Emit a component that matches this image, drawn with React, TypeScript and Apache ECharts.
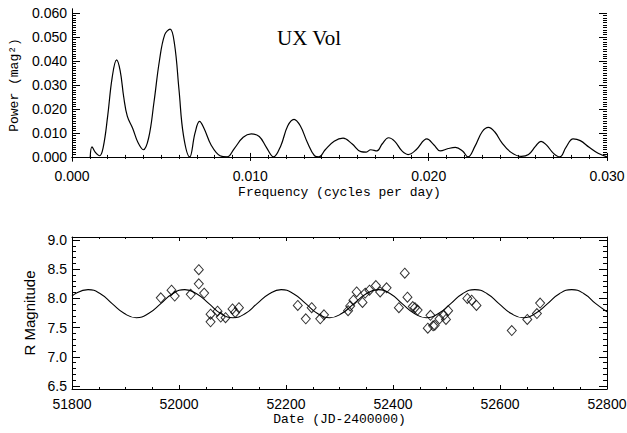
import React, { useEffect, useRef } from "react";
import * as echarts from "echarts";

// ---- Top panel: periodogram ----
const FREQ = [
  0.00102, 0.00112, 0.0013, 0.00155, 0.00175, 0.002, 0.00225, 0.0025, 0.0027, 0.0029,
  0.0031, 0.0034, 0.0037, 0.004, 0.0043, 0.0046, 0.0049, 0.0052, 0.0055, 0.00575,
  0.006, 0.00625, 0.0066, 0.0069, 0.00715, 0.0074, 0.0078, 0.0083, 0.0087, 0.0091,
  0.0096, 0.01005, 0.0105, 0.0109, 0.0113, 0.0117, 0.0121, 0.01245, 0.0128, 0.0132,
  0.0136, 0.01385, 0.0142, 0.0147, 0.0152, 0.0157, 0.0162, 0.0165, 0.01675, 0.0171,
  0.0174, 0.01775, 0.0181, 0.0185, 0.01885, 0.0193, 0.0199, 0.0203, 0.02065, 0.0211,
  0.0215, 0.0219, 0.0222, 0.0226, 0.023, 0.02335, 0.0237, 0.0241, 0.0246, 0.0252,
  0.0256, 0.026, 0.0263, 0.0266, 0.027, 0.02735, 0.0277, 0.0281, 0.0285, 0.029,
  0.0295, 0.03,
];
const POWER = [
  0.0, 0.0042, 0.002, 0.0005, 0.004, 0.017, 0.033, 0.0405, 0.036, 0.025,
  0.017, 0.012, 0.006, 0.003, 0.008, 0.023, 0.04, 0.051, 0.0533, 0.047,
  0.028, 0.009, 0.0, 0.01, 0.0148, 0.012, 0.005, 0.0005, 0.0, 0.0035,
  0.0082, 0.0096, 0.0085, 0.004, 0.0, 0.0045, 0.013, 0.0157, 0.013, 0.006,
  0.0005, 0.0, 0.003, 0.0065, 0.0078, 0.0055, 0.0022, 0.002, 0.003, 0.0025,
  0.0055, 0.008, 0.0065, 0.0025, 0.001, 0.003, 0.0075, 0.005, 0.0025, 0.0035,
  0.004, 0.0025, 0.0, 0.0045, 0.0105, 0.0123, 0.0105, 0.006, 0.002, 0.0002,
  0.001, 0.0045, 0.0065, 0.005, 0.0015, 0.0, 0.004, 0.0075, 0.0068, 0.004,
  0.0015, 0.0,
];

// ---- Bottom panel: fitted curve ----
const FIT_DATES = [
  51800, 51830, 51853, 51875, 51898, 51920, 51943, 51966, 51988, 52011, 52033, 52056,
  52078, 52101, 52124, 52146, 52169, 52191, 52214, 52237, 52259, 52282, 52304, 52327,
  52350, 52372, 52395, 52417, 52440, 52462, 52485, 52508, 52530, 52553, 52576, 52598,
  52621, 52643, 52666, 52689, 52711, 52734, 52757, 52779, 52800,
];
const FIT_MAG = [
  8.04, 8.15, 8.08, 7.91, 7.74, 7.67, 7.74, 7.91, 8.08, 8.15, 8.08, 7.91,
  7.74, 7.67, 7.74, 7.91, 8.08, 8.15, 8.08, 7.91, 7.74, 7.67, 7.74, 7.91,
  8.08, 8.15, 8.08, 7.91, 7.74, 7.67, 7.74, 7.91, 8.08, 8.15, 8.08, 7.91,
  7.74, 7.67, 7.74, 7.91, 8.08, 8.15, 8.08, 7.91, 7.77,
];

// ---- Bottom panel: observations ----
const OBS_DATES = [
  51966, 51986, 51992, 52022, 52037, 52037, 52047, 52059, 52059, 52072, 52078, 52087,
  52100, 52105, 52112, 52222, 52237, 52248, 52264, 52271, 52316, 52320, 52326, 52332,
  52343, 52348, 52356, 52368, 52376, 52388, 52411, 52422, 52427, 52437, 52441, 52446,
  52465, 52470, 52475, 52478, 52487, 52495, 52499, 52503, 52539, 52547, 52556, 52622,
  52651, 52669, 52675,
];
const OBS_MAG = [
  8.01, 8.14, 8.04, 8.07, 8.49, 8.25, 8.09, 7.73, 7.6, 7.78, 7.68, 7.67,
  7.82, 7.76, 7.84, 7.88, 7.65, 7.84, 7.65, 7.72, 7.79, 7.87, 7.97, 8.11,
  7.93, 8.09, 8.14, 8.22, 8.11, 8.18, 7.84, 8.43, 8.02, 7.86, 7.84, 7.8,
  7.49, 7.71, 7.53, 7.54, 7.65, 7.71, 7.64, 7.79, 8.0, 7.97, 7.88, 7.45,
  7.64, 7.74, 7.92,
];

const TITLE = "UX Vol";
const X1_NAME = "Frequency (cycles per day)";
const Y1_NAME = "Power (mag\u00b2)";
const X2_NAME = "Date (JD-2400000)";
const Y2_NAME = "R Magnitude";

const BLACK = "#000";
const SANS = "Liberation Sans";
const MONO = "Liberation Mono";

export default function App() {
  const ref = useRef<HTMLDivElement>(null);
  useEffect(() => {
    document.body.style.margin = "0";
    if (!ref.current) return;
    const chart = echarts.init(ref.current, undefined, { renderer: "svg" });

    const line = { show: true, lineStyle: { color: BLACK, width: 1 } };
    const noSplit = { show: false };
    const labelStyle = { color: BLACK, fontFamily: SANS, fontSize: 14 };
    const monoName = { fontFamily: MONO, fontSize: 13, fontWeight: "normal", color: BLACK };

    const frameX = (grid: number, pos: "top" | "bottom", min: number, max: number, interval: number, minorN: number, labels: boolean, fmt: (v: number) => string, extra: any = {}) => ({
      type: "value",
      gridIndex: grid,
      position: pos,
      min,
      max,
      interval,
      axisLine: line,
      splitLine: noSplit,
      axisTick: { show: true, inside: true, length: 4, lineStyle: { color: BLACK } },
      minorTick: { show: true, splitNumber: minorN, length: 2, lineStyle: { color: BLACK } },
      minorSplitLine: { show: false },
      axisLabel: { show: labels, margin: 8, formatter: fmt, ...labelStyle },
      ...extra,
    });
    const frameY = (grid: number, pos: "left" | "right", min: number, max: number) => ({
      type: "value",
      gridIndex: grid,
      position: pos,
      min,
      max,
      axisLine: line,
      splitLine: noSplit,
      axisTick: { show: false },
      axisLabel: { show: false },
    });
    const tickY = (grid: number, pos: "left" | "right", min: number, max: number, interval: number, minorN: number, labels: boolean, fmt: (v: number) => string, extra: any = {}) => ({
      type: "value",
      gridIndex: grid,
      position: pos,
      min,
      max,
      interval,
      axisLine: { show: false },
      splitLine: noSplit,
      axisTick: { show: true, inside: true, length: 8, lineStyle: { color: BLACK } },
      minorTick: { show: true, splitNumber: minorN, length: 4, lineStyle: { color: BLACK } },
      minorSplitLine: { show: false },
      axisLabel: { show: labels, margin: 5, formatter: fmt, ...labelStyle },
      ...extra,
    });

    const f3 = (v: number) => v.toFixed(3);
    const f1 = (v: number) => v.toFixed(1);
    const f0 = (v: number) => String(Math.round(v));

    const topData = FREQ.map((f, i) => [f, POWER[i]]);
    const fitData = FIT_DATES.map((d, i) => [d, FIT_MAG[i]]);
    const obsData = OBS_DATES.map((d, i) => [d, OBS_MAG[i]]);

    const gridBase = { left: 72, width: 535, outerBoundsMode: "none", containLabel: false };

    chart.setOption({
      animation: false,
      backgroundColor: "#fff",
      title: {
        text: TITLE,
        left: 277,
        top: 27,
        padding: 0,
        textStyle: { fontFamily: "Liberation Serif", fontSize: 21, fontWeight: "normal", color: BLACK },
      },
      grid: [
        { ...gridBase, top: 9, height: 152 },
        { ...gridBase, top: 13.08, height: 143.85 },
        { ...gridBase, top: 237, height: 152 },
        { ...gridBase, top: 239.92, height: 146.15 },
      ],
      xAxis: [
        frameX(0, "bottom", 0, 0.03, 0.01, 10, true, f3, {
          name: X1_NAME,
          nameLocation: "middle",
          nameGap: 25,
          nameTextStyle: monoName,
        }),
        frameX(0, "top", 0, 0.03, 0.01, 10, false, f3),
        { type: "value", gridIndex: 1, min: 0, max: 0.03, show: false },
        frameX(2, "bottom", 51800, 52800, 200, 4, true, f0, {
          name: X2_NAME,
          nameLocation: "middle",
          nameGap: 24,
          nameTextStyle: monoName,
        }),
        frameX(2, "top", 51800, 52800, 200, 4, false, f0),
        { type: "value", gridIndex: 3, min: 51800, max: 52800, show: false },
      ],
      yAxis: [
        frameY(0, "left", -0.0017, 0.0617),
        frameY(0, "right", -0.0017, 0.0617),
        tickY(1, "left", 0, 0.06, 0.01, 10, true, f3, {
          name: Y1_NAME,
          nameLocation: "middle",
          nameGap: 51,
          nameRotate: 90,
          nameTextStyle: monoName,
        }),
        tickY(1, "right", 0, 0.06, 0.01, 10, false, f3),
        frameY(2, "left", 6.45, 9.05),
        frameY(2, "right", 6.45, 9.05),
        tickY(3, "left", 6.5, 9.0, 0.5, 5, true, f1, {
          name: Y2_NAME,
          nameLocation: "middle",
          nameGap: 33,
          nameRotate: 90,
          nameTextStyle: { fontFamily: SANS, fontSize: 15, color: BLACK },
        }),
        tickY(3, "right", 6.5, 9.0, 0.5, 5, false, f1),
      ],
      series: [
        {
          type: "line",
          xAxisIndex: 0,
          yAxisIndex: 0,
          data: topData,
          showSymbol: false,
          smooth: 0.4,
          clip: true,
          lineStyle: { color: BLACK, width: 1.2 },
        },
        {
          type: "line",
          xAxisIndex: 3,
          yAxisIndex: 4,
          data: fitData,
          showSymbol: false,
          smooth: 0.5,
          clip: true,
          lineStyle: { color: BLACK, width: 1.1 },
        },
        {
          type: "scatter",
          xAxisIndex: 3,
          yAxisIndex: 4,
          data: obsData,
          symbol: "diamond",
          symbolSize: [9, 10],
          itemStyle: { color: "rgba(0,0,0,0)", borderColor: BLACK, borderWidth: 1 },
        },
      ],
    });
    return () => chart.dispose();
  }, []);
  return <div ref={ref} style={{ width: 627, height: 433 }} />;
}
